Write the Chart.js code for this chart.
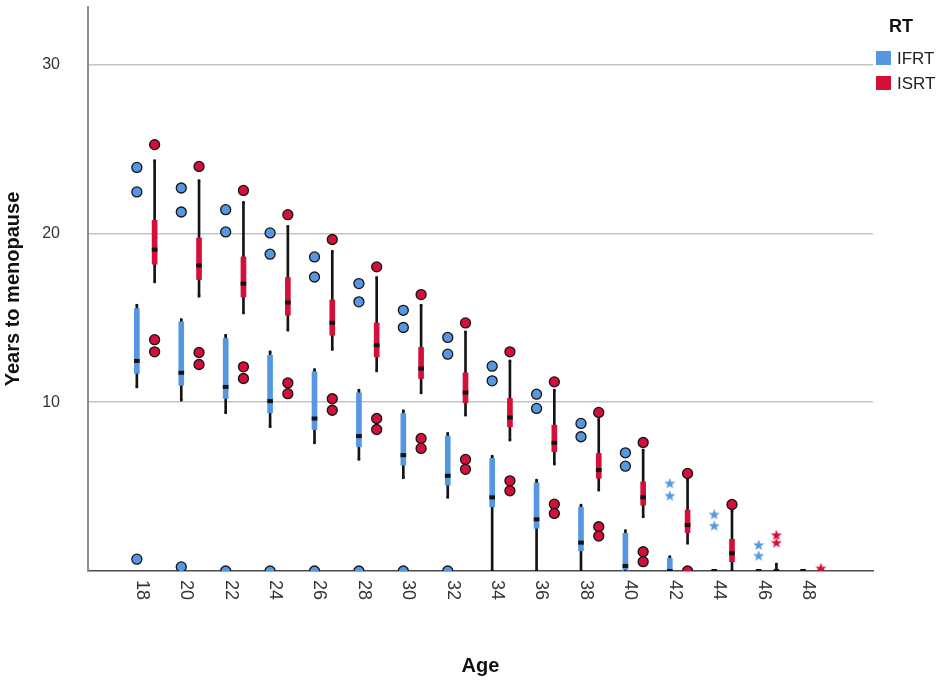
<!DOCTYPE html>
<html>
<head>
<meta charset="utf-8">
<script src="https://cdn.jsdelivr.net/npm/chart.js@4.4.0/dist/chart.umd.min.js"></script>
<style>
html, body { margin: 0; padding: 0; background: #fff; }
#wrap { width: 945px; height: 681px; position: relative; }
</style>
</head>
<body>
<div id="wrap"><canvas id="chart"></canvas></div>
<script>
// ages on the x axis
const ages = [18, 20, 22, 24, 26, 28, 30, 32, 34, 36, 38, 40, 42, 44, 46, 48];
const yTicks = [10, 20, 30];

// IFRT box stats
const ifrtLow  = [10.9, 10.12, 9.37, 8.54, 7.59, 6.61, 5.52, 4.36, 0, 0, 0, 0, 0, 0, 0, 0];
const ifrtQ1   = [11.7, 11.0, 10.22, 9.37, 8.38, 7.36, 6.27, 5.09, 3.8, 2.53, 1.2, 0, 0, 0, 0, 0];
const ifrtMed  = [12.44, 11.74, 10.9, 10.06, 9.03, 7.99, 6.86, 5.64, 4.36, 3.06, 1.68, 0.3, 0, 0, 0, 0];
const ifrtQ3   = [15.54, 14.75, 13.77, 12.78, 11.8, 10.55, 9.33, 7.99, 6.67, 5.22, 3.77, 2.23, 0.75, 0, 0, 0];
const ifrtHigh = [15.74, 14.89, 13.96, 12.98, 11.93, 10.71, 9.49, 8.15, 6.8, 5.38, 3.9, 2.39, 0.85, 0, 0, 0];
const ifrtOutliers = [[23.9, 22.45, 0.7], [22.68, 21.26, 0.24], [21.4, 20.08, 0], [20.02, 18.76, 0],
  [18.6, 17.41, 0], [17.02, 15.94, 0], [15.44, 14.42, 0], [13.83, 12.84, 0], [12.13, 11.26],
  [10.47, 9.63], [8.74, 7.95], [7.0, 6.21], [], [], [], []];
const ifrtExtremes = [[], [], [], [], [], [], [], [], [], [], [], [], [5.19, 4.46], [3.35, 2.68], [1.54, 0.91], []];

// ISRT box stats
const isrtLow  = [17.12, 16.27, 15.28, 14.26, 13.12, 11.85, 10.55, 9.23, 7.75, 6.33, 4.79, 3.21, 1.64, 0, 0, 0];
const isrtQ1   = [18.17, 17.26, 16.23, 15.15, 13.96, 12.68, 11.4, 9.96, 8.54, 7.06, 5.49, 3.9, 2.27, 0.55, 0, 0];
const isrtMed  = [19.03, 18.09, 17.02, 15.9, 14.7, 13.37, 11.99, 10.57, 9.09, 7.59, 5.98, 4.36, 2.72, 1.05, 0, 0];
const isrtQ3   = [20.77, 19.72, 18.6, 17.38, 16.05, 14.69, 13.24, 11.74, 10.22, 8.64, 6.96, 5.28, 3.61, 1.88, 0, 0];
const isrtHigh = [24.3, 23.12, 21.83, 20.41, 18.93, 17.38, 15.74, 14.16, 12.44, 10.71, 8.98, 7.16, 5.42, 3.57, 0.41, 0];
const isrtOutliers = [[25.25, 13.7, 12.98], [23.96, 12.94, 12.23], [22.54, 12.09, 11.4], [21.1, 11.14, 10.5],
  [19.63, 10.2, 9.52], [18.01, 9.03, 8.38], [16.37, 7.85, 7.26], [14.69, 6.61, 6.02], [12.98, 5.34, 4.75],
  [11.2, 3.96, 3.41], [9.39, 2.62, 2.07], [7.61, 1.14, 0.55], [5.78, 0], [3.94], [], []];
const isrtExtremes = [[], [], [], [], [], [], [], [], [], [], [], [], [], [], [2.13, 1.68], [0.16]];

const BLUE = '#5597E0';
const RED = '#D40F3A';
const DARK = '#141414';
const FONT = 'Arial, "Liberation Sans", sans-serif';

function rangeData(lo, hi, off) {
    return ages.map((a, i) => ({ x: a + off, y: [lo[i], hi[i]] }));
}

function medianData(med, off) {
    return ages.map((a, i) => ({ x: a + off, y: [med[i] - 0.1, med[i] + 0.1] }));
}

function capData(lo, hi, off) {
    const pts = [];
    ages.forEach((a, i) => {
        if (hi[i] - lo[i] > 0) {
            pts.push({ x: a + off, y: lo[i] });
            pts.push({ x: a + off, y: hi[i] });
        }
    });
    return pts;
}

function pointData(lists, off) {
    const pts = [];
    ages.forEach((a, i) => lists[i].forEach(v => pts.push({ x: a + off, y: v })));
    return pts;
}

function makeStar(color) {
    const c = document.createElement('canvas');
    c.width = 12; c.height = 12;
    const g = c.getContext('2d');
    g.fillStyle = color;
    g.beginPath();
    for (let k = 0; k < 10; k++) {
        const r = k % 2 ? 2.4 : 5.8;
        const ang = -Math.PI / 2 + k * Math.PI / 5;
        g.lineTo(6 + r * Math.cos(ang), 6.4 + r * Math.sin(ang));
    }
    g.closePath();
    g.fill();
    return c;
}

function barSet(data, color, thickness, order) {
    return { type: 'bar', data: data, backgroundColor: color, barThickness: thickness,
        grouped: false, borderWidth: 0, order: order, clip: 0 };
}

function pointSet(data, fill, style, radius, order) {
    return { type: 'scatter', data: data, backgroundColor: fill, borderColor: DARK,
        borderWidth: 1.3, pointStyle: style, pointRadius: radius, pointHoverRadius: radius,
        order: order, clip: 0 };
}

const OFF = 0.4;

const ageLabels = {
    id: 'ageLabels',
    afterDraw(chart) {
        const { ctx, scales: { x }, chartArea } = chart;
        ctx.save();
        ctx.font = '18px ' + FONT;
        ctx.fillStyle = '#333';
        ctx.textAlign = 'left';
        ctx.textBaseline = 'middle';
        ages.forEach(a => {
            ctx.save();
            ctx.translate(x.getPixelForValue(a) - 4, chartArea.bottom + 9);
            ctx.rotate(Math.PI / 2);
            ctx.fillText(String(a), 0, 0);
            ctx.restore();
        });
        ctx.restore();
    }
};

const rtLegend = {
    id: 'rtLegend',
    afterDraw(chart) {
        const ctx = chart.ctx;
        ctx.save();
        ctx.fillStyle = '#111';
        ctx.font = 'bold 18px ' + FONT;
        ctx.textAlign = 'center';
        ctx.textBaseline = 'middle';
        ctx.fillText('RT', 901, 27);
        ctx.font = '17px ' + FONT;
        ctx.textAlign = 'left';
        [['IFRT', BLUE, 58], ['ISRT', RED, 83]].forEach(([name, color, y]) => {
            ctx.fillStyle = color;
            ctx.fillRect(876, y - 7, 15, 14);
            ctx.fillStyle = '#222';
            ctx.fillText(name, 897, y + 1);
        });
        ctx.restore();
    }
};

new Chart(document.getElementById('chart'), {
    type: 'bar',
    data: {
        datasets: [
            barSet(rangeData(ifrtLow, ifrtHigh, -OFF), DARK, 2, 9),
            barSet(rangeData(isrtLow, isrtHigh, OFF), DARK, 2, 9),
            barSet(rangeData(ifrtQ1, ifrtQ3, -OFF), BLUE, 5, 8),
            barSet(rangeData(isrtQ1, isrtQ3, OFF), RED, 5, 8),
            barSet(medianData(ifrtMed, -OFF), DARK, 5, 7),
            barSet(medianData(isrtMed, OFF), DARK, 5, 7),
            { type: 'scatter', data: capData(ifrtLow, ifrtHigh, -OFF).concat(capData(isrtLow, isrtHigh, OFF)),
              backgroundColor: DARK, borderWidth: 0, pointStyle: 'rect', pointRadius: 1.8, order: 6, clip: 0 },
            pointSet(pointData(ifrtOutliers, -OFF), BLUE, 'circle', 5, 3),
            pointSet(pointData(isrtOutliers, OFF), RED, 'circle', 5, 3),
            pointSet(pointData(ifrtExtremes, -OFF), BLUE, makeStar(BLUE), 5, 2),
            pointSet(pointData(isrtExtremes, OFF), RED, makeStar(RED), 5, 2)
        ]
    },
    options: {
        responsive: true,
        maintainAspectRatio: false,
        animation: false,
        layout: { padding: { top: 7, right: 72, left: 0, bottom: 0 } },
        plugins: { legend: { display: false }, tooltip: { enabled: false } },
        scales: {
            x: {
                type: 'linear',
                offset: false,
                min: 15.4,
                max: 50.75,
                grid: { display: false, drawTicks: false, offset: false },
                border: { color: '#4a4a4a', width: 1.5 },
                ticks: { display: false },
                title: { display: true, text: 'Age', color: '#111',
                    font: { family: FONT, size: 20, weight: 'bold' }, padding: { top: 0, bottom: 3 } },
                afterFit(s) { s.height = 110; s.paddingLeft = 0; s.paddingRight = 0; }
            },
            y: {
                min: 0,
                max: 33.4,
                afterBuildTicks(s) { s.ticks = yTicks.map(v => ({ value: v })); },
                grid: { color: '#c4c4c4', lineWidth: 1.5, drawTicks: false },
                border: { color: '#8c8c8c', width: 2 },
                ticks: { padding: 28, color: '#333', font: { family: FONT, size: 16 } },
                title: { display: true, text: 'Years to menopause', color: '#111',
                    font: { family: FONT, size: 20, weight: 'bold' }, padding: { top: 1, bottom: 0 } },
                afterFit(s) { s.width = 88; s.paddingTop = 0; s.paddingBottom = 0; }
            }
        }
    },
    plugins: [ageLabels, rtLegend]
});
</script>
</body>
</html>
